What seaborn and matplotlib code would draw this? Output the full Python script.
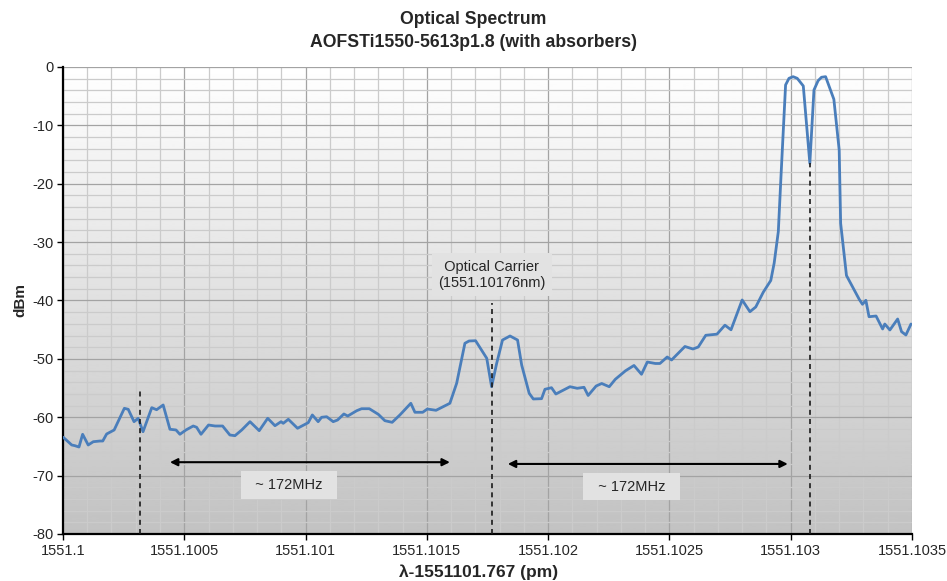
import numpy as np
import seaborn as sns
import matplotlib.pyplot as plt
import pandas as pd
from matplotlib.ticker import MultipleLocator

# wavelength (nm) and power (dBm)
wavelength = [
    1551.100001, 1551.100036, 1551.100049, 1551.100066, 1551.100081, 1551.100104,
    1551.100125, 1551.100153, 1551.100164, 1551.100180, 1551.100211, 1551.100253,
    1551.100269, 1551.100293, 1551.100310, 1551.100330, 1551.100366, 1551.100386,
    1551.100413, 1551.100441, 1551.100466, 1551.100482, 1551.100507, 1551.100537,
    1551.100551, 1551.100569, 1551.100600, 1551.100627, 1551.100658, 1551.100688,
    1551.100709, 1551.100737, 1551.100771, 1551.100809, 1551.100844, 1551.100874,
    1551.100899, 1551.100908, 1551.100929, 1551.100967, 1551.100998, 1551.101011,
    1551.101028, 1551.101052, 1551.101066, 1551.101087, 1551.101114, 1551.101132,
    1551.101158, 1551.101174, 1551.101211, 1551.101231, 1551.101263, 1551.101300,
    1551.101327, 1551.101357, 1551.101389, 1551.101434, 1551.101451, 1551.101483,
    1551.101502, 1551.101538, 1551.101595, 1551.101623, 1551.101657, 1551.101674,
    1551.101701, 1551.101747, 1551.101767, 1551.101788, 1551.101812, 1551.101843,
    1551.101874, 1551.101891, 1551.101922, 1551.101939, 1551.101973, 1551.101987,
    1551.102014, 1551.102032, 1551.102062, 1551.102090, 1551.102120, 1551.102148,
    1551.102165, 1551.102198, 1551.102221, 1551.102252, 1551.102277, 1551.102319,
    1551.102354, 1551.102385, 1551.102409, 1551.102442, 1551.102461, 1551.102491,
    1551.102509, 1551.102536, 1551.102564, 1551.102597, 1551.102619, 1551.102650,
    1551.102696, 1551.102729, 1551.102754, 1551.102800, 1551.102832, 1551.102856,
    1551.102887, 1551.102918, 1551.102932, 1551.102949, 1551.102960, 1551.102979,
    1551.102993, 1551.103010, 1551.103027, 1551.103052, 1551.103079, 1551.103096,
    1551.103113, 1551.103127, 1551.103144, 1551.103178, 1551.103200, 1551.103206,
    1551.103230, 1551.103255, 1551.103283, 1551.103296, 1551.103310, 1551.103323,
    1551.103352, 1551.103379, 1551.103388, 1551.103409, 1551.103441, 1551.103457,
    1551.103475, 1551.103496,
]
power = [
    -63.43, -64.75, -64.87, -65.10, -62.92, -64.75,
    -64.19, -64.07, -64.07, -62.87, -62.18, -58.47,
    -58.64, -60.76, -60.18, -62.48, -58.36, -58.71,
    -57.90, -62.06, -62.18, -62.92, -62.18, -61.50,
    -61.72, -62.92, -61.33, -61.50, -61.50, -63.04,
    -63.16, -62.18, -60.76, -62.30, -60.18, -61.45,
    -60.76, -61.04, -60.35, -61.89, -61.21, -60.93,
    -59.61, -60.76, -60.01, -59.91, -60.76, -60.47,
    -59.44, -59.79, -58.88, -58.54, -58.54, -59.50,
    -60.59, -60.87, -59.61, -57.61, -59.15, -59.15,
    -58.59, -58.81, -57.61, -54.18, -47.33, -46.94,
    -46.89, -49.90, -54.77, -50.76, -46.77, -46.08,
    -46.77, -51.05, -55.90, -56.87, -56.82, -55.21,
    -54.94, -56.02, -55.38, -54.77, -55.04, -54.87,
    -56.27, -54.65, -54.22, -54.77, -53.50, -52.04,
    -51.13, -52.64, -50.54, -50.79, -50.79, -49.68,
    -50.19, -49.05, -47.88, -48.31, -47.97, -45.96,
    -45.77, -44.23, -45.02, -39.91, -41.92, -41.11,
    -38.58, -36.57, -33.58, -28.21, -18.79, -3.08,
    -1.94, -1.66, -1.94, -3.25, -16.50, -3.94,
    -2.35, -1.76, -1.66, -5.53, -14.22, -26.78,
    -35.72, -37.64, -39.83, -40.65, -39.97, -42.78,
    -42.66, -44.88, -44.03, -45.05, -43.17, -45.34,
    -45.91, -44.03,
]

x_ticks = [1551.1, 1551.1005, 1551.101, 1551.1015, 1551.102, 1551.1025, 1551.103, 1551.1035]
x_tick_labels = ["1551.1", "1551.1005", "1551.101", "1551.1015", "1551.102",
                 "1551.1025", "1551.103", "1551.1035"]
y_ticks = [0, -10, -20, -30, -40, -50, -60, -70, -80]

# dashed markers: wavelength and top of line in dBm
markers_x = [1551.100317, 1551.101768, 1551.103079]
markers_top = [-55.3, -40.4, -16.5]
# spacing arrows
arrow_start = [1551.100441, 1551.101834]
arrow_end = [1551.101595, 1551.102988]
arrow_level = [-67.7, -68.0]
arrow_text = ["~ 172MHz", "~ 172MHz"]
arrow_text_x = [1551.100932, 1551.102345]
arrow_text_y = [-71.6, -71.9]

df = pd.DataFrame({"wavelength": wavelength, "power": power})

sns.set_theme(style="white")
plt.rcParams['font.family'] = ['Liberation Sans', 'DejaVu Sans']
plt.rcParams['axes.unicode_minus'] = False

fig = plt.figure(figsize=(9.47, 5.81), dpi=100)
ax = fig.add_axes([0.0665, 0.0809, 0.8965, 0.8038])

xmin, xmax, ymin, ymax = 1551.1, 1551.1035, -80, 0
grad = np.linspace(1.0, 0.76, 256).reshape(-1, 1)
ax.imshow(grad, cmap="gray", vmin=0, vmax=1, aspect="auto",
          extent=[xmin, xmax, ymin, ymax], origin="upper", zorder=-2)

sns.lineplot(data=df, x="wavelength", y="power", ax=ax, color="#4a7ebb",
             linewidth=2.0, estimator=None, zorder=3)

ax.set_xlim(xmin, xmax)
ax.set_ylim(ymin, ymax)
ax.set_xticks(x_ticks)
ax.set_xticklabels(x_tick_labels)
ax.set_yticks(y_ticks)
ax.xaxis.set_minor_locator(MultipleLocator(0.0001))
ax.yaxis.set_minor_locator(MultipleLocator(2))
ax.set_axisbelow(True)
ax.grid(which="major", color="#a3a3a3", linewidth=0.9)
ax.grid(which="minor", color="#cbcbcb", linewidth=0.9)
ax.tick_params(axis="both", which="major", direction="out", length=4, width=1,
               color="black", labelsize=10.5, pad=3, left=True, bottom=True)
ax.tick_params(axis="both", which="minor", length=0)
for side in ["top", "right"]:
    ax.spines[side].set_visible(False)
for side in ["left", "bottom"]:
    ax.spines[side].set_color("black")
    ax.spines[side].set_linewidth(1.6)

ax.set_xlabel("")
ax.set_ylabel("dBm", fontsize=11, fontweight="bold", labelpad=3)
fig.text(479 / 947, 0.0155, "λ-1551101.767 (pm)", ha="center",
         va="center", fontsize=12.5, fontweight="bold")
fig.suptitle("Optical Spectrum\nAOFSTi1550-5613p1.8 (with absorbers)",
             y=0.981, fontsize=12.7, fontweight="bold", linespacing=1.45)

for mx, top in zip(markers_x, markers_top):
    ax.plot([mx, mx], [ymin, top], color="#1a1a1a", linewidth=1.2,
            dashes=(3, 2.5), zorder=4)

for a, b, lvl in zip(arrow_start, arrow_end, arrow_level):
    ax.annotate("", xy=(b, lvl), xytext=(a, lvl),
                arrowprops=dict(arrowstyle="<|-|>", color="black", lw=1.5,
                                mutation_scale=11, shrinkA=0, shrinkB=0),
                zorder=5)

box = dict(boxstyle="square,pad=0.45", facecolor="#e2e2e2", edgecolor="none")
for t, tx, ty in zip(arrow_text, arrow_text_x, arrow_text_y):
    ax.text(tx, ty, "  " + t + "  ", ha="center", va="center", fontsize=10.5,
            bbox=box, zorder=6)
ax.text(markers_x[1], -35.6, " Optical Carrier \n(1551.10176nm)", ha="center",
        va="center", fontsize=10.5, bbox=box, zorder=6, linespacing=1.15)

fig.savefig("out.png", dpi=100)
